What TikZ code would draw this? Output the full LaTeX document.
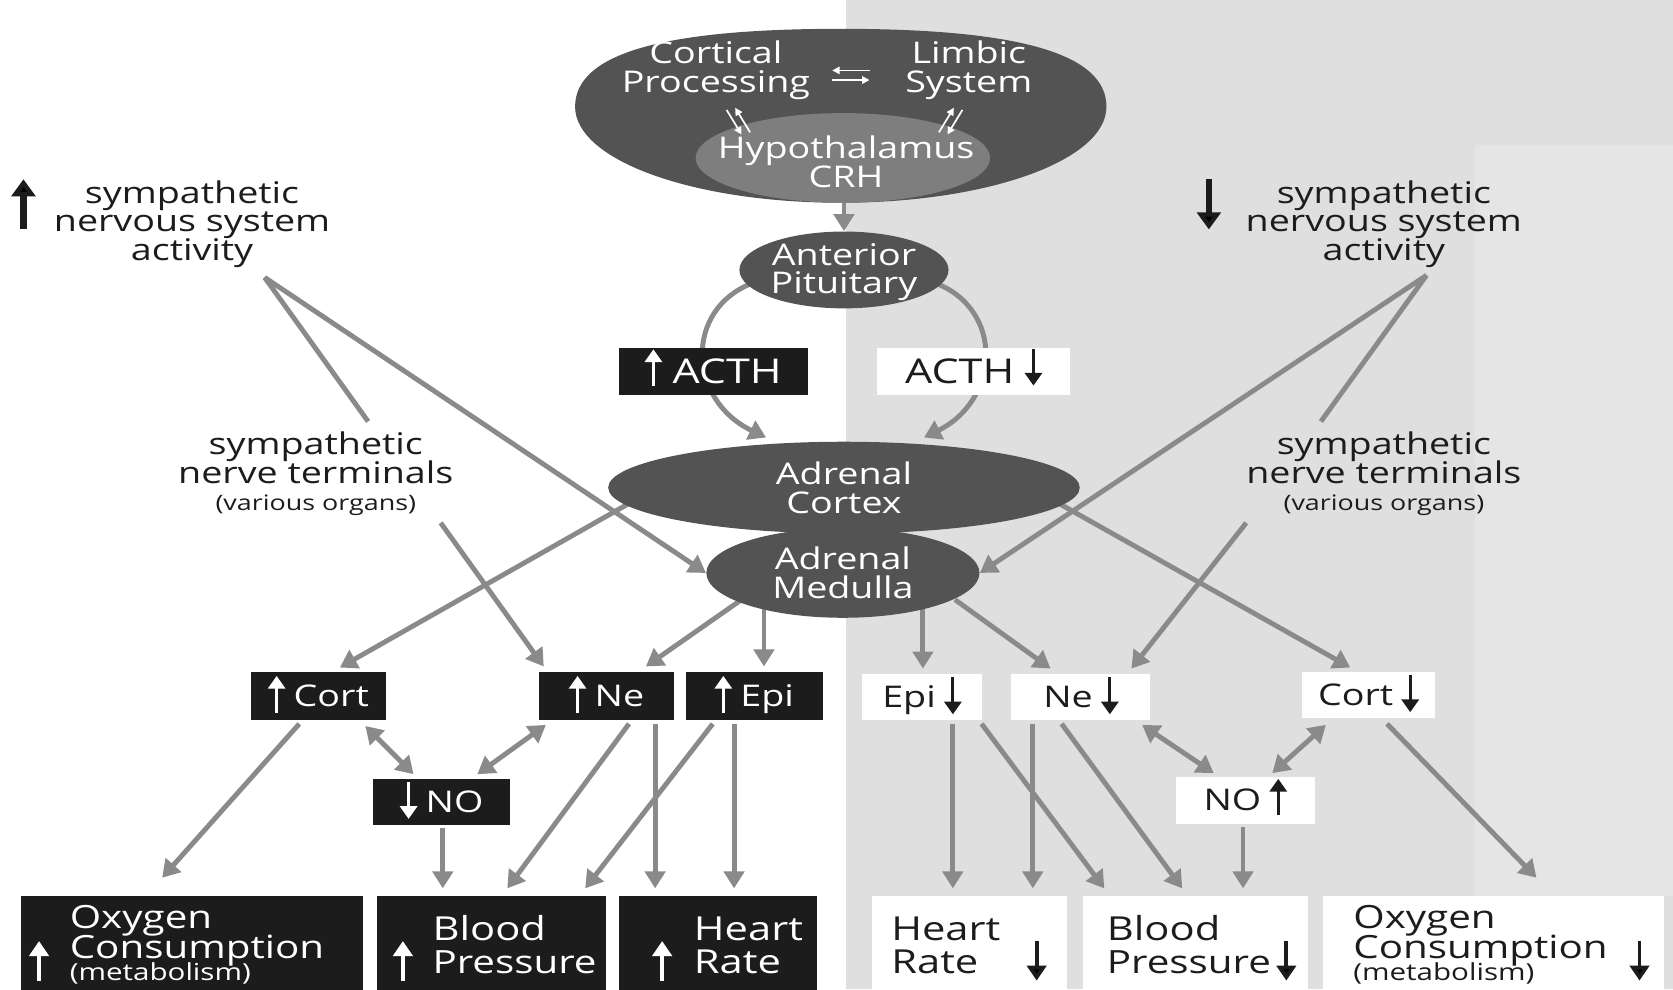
\documentclass[tikz,border=0pt]{standalone}
\usepackage{fontspec}
\setmainfont{Open Sans}[FakeStretch=1.26]
\usetikzlibrary{arrows.meta,calc,shapes.geometric}
\definecolor{dk}{HTML}{535353}
\definecolor{hy}{HTML}{7E7E7E}
\definecolor{ag}{HTML}{8A8A8A}
\definecolor{rg}{HTML}{DFDFDF}
\definecolor{rl}{HTML}{E5E5E5}
\definecolor{bx}{HTML}{1C1C1C}
\pgfdeclarelayer{back}\pgfdeclarelayer{conn}\pgfsetlayers{back,conn,main}
\newcommand\nlsk{\setlength{\lineskiplimit}{-20pt}}
\newcommand\UpA[3]{\tikz[baseline=0pt]\draw[draw=#1,line width=1.5pt,-{Triangle[length=6pt,width=8pt]}] (0pt,#2)--(0pt,#3);}
\newcommand\DnA[3]{\tikz[baseline=0pt]\draw[draw=#1,line width=1.5pt,-{Triangle[length=6pt,width=8pt]}] (0pt,#3)--(0pt,#2);}
\tikzset{
 ell/.style={ellipse, fill=dk, inner sep=0pt},
 wt/.style={text=white, align=center, inner sep=0pt, font={\fontsize{14}{13.5}\selectfont\nlsk}},
 bt/.style={text=bx, align=center, inner sep=0pt, font={\fontsize{14}{13.5}\selectfont\nlsk}},
 blk/.style={rectangle, fill=bx, text=white, inner sep=0pt, text height=10pt, text depth=0pt, font=\fontsize{14}{14}\selectfont},
 wht/.style={rectangle, fill=white, text=bx, inner sep=0pt, text height=10pt, text depth=0pt, font=\fontsize{14}{14}\selectfont},
 lt/.style={inner sep=0pt, anchor=base west, font=\fontsize{15.5}{15.5}\selectfont},
 conn/.style={draw=ag, line width=2.3pt, -{Triangle[length=8pt,width=9.5pt]}},
 dconn/.style={draw=ag, line width=2.3pt, {Triangle[length=8pt,width=9.5pt]}-{Triangle[length=8pt,width=9.5pt]}},
 plainln/.style={draw=ag, line width=2.3pt},
 sm/.style={draw=white, line width=0.8pt, -{Triangle[length=3.5pt,width=3.5pt]}},
 bigar/.style={draw=bx, line width=3pt, -{Triangle[length=8pt,width=11pt]}},
 bxar/.style={line width=1.8pt, -{Triangle[length=7pt,width=9pt]}},
}
\begin{document}
\begin{tikzpicture}[x=0.5pt,y=-0.5pt]
\useasboundingbox (0,0) rectangle (1568,927);
\clip (0,0) rectangle (1568,927);
\begin{pgfonlayer}{back}
\fill[white] (0,0) rectangle (1568,927);
\fill[rg] (793,0) rectangle (1568,927);
\fill[rl] (1382,136) rectangle (1568,840);
\end{pgfonlayer}
% top oval
\node[ellipse, inner sep=0pt, minimum width=250pt, minimum height=78pt] (top) at (788,112) {};
\fill[dk] ($(top.center)+(249,-12)$) .. controls +(0,-50) and +(166,0) .. ($(top.center)+(0,-85)$)
  .. controls +(-166,0) and +(0,-50) .. ($(top.center)+(-249,-12)$)
  .. controls +(0,50) and +(-139,0) .. ($(top.center)+(0,78)$)
  .. controls +(139,0) and +(0,50) .. ($(top.center)+(249,-12)$) -- cycle;
\node[ell, fill=hy, minimum width=138pt, minimum height=42pt] (hypo) at (790,148) {};
\node[wt] (cortp) at (671,66) {Cortical\\Processing};
\node[wt] (limb) at (908,66) {Limbic\\System};
\node[wt] (hypt) at (793,152) {Hypothalamus\\CRH};
\node[ell, minimum width=98pt, minimum height=36pt] (pit) at (791,253) {};
\node[wt] (pitt) at ($(pit.center)+(0,2)$) {Anterior\\Pituitary};
\node[ell, minimum width=221pt, minimum height=43pt] (ctx) at (791,457) {};
\node[wt] (ctxt) at (ctx.center) {Adrenal\\Cortex};
\node[ell, minimum width=128pt, minimum height=42pt] (med) at (790,537) {};
\node[wt] (medt) at (med.center) {Adrenal\\Medulla};
% small arrows in top oval
\draw[sm] ($(top.center)+(27,-46)$) -- ($(top.center)+(-8,-46)$);
\draw[sm] ($(top.center)+(-8,-37)$) -- ($(top.center)+(27,-37)$);
\draw[sm] ($(top.center)+(-107,-9)$) -- ($(top.center)+(-93,14)$);
\draw[sm] ($(top.center)+(-85,12)$) -- ($(top.center)+(-99,-11)$);
\draw[sm] ($(top.center)+(114,-9)$) -- ($(top.center)+(100,14)$);
\draw[sm] ($(top.center)+(92,12)$) -- ($(top.center)+(106,-11)$);
% ACTH
\node[blk, minimum width=88.5pt, minimum height=22pt, text height=11.4pt, font=\fontsize{16}{16}\selectfont] (acthL) at (668.5,348) {\UpA{white}{-1pt}{16pt}\hspace{5pt}ACTH};
\node[wht, minimum width=90.5pt, minimum height=22pt, text height=11.4pt, font=\fontsize{16}{16}\selectfont] (acthR) at (912.5,348) {ACTH\hspace{5pt}\DnA{bx}{-1pt}{16pt}};
% side texts
\node[bt] (actL) at (180,210) {sympathetic\\nervous system\\activity};
\node[bt] (actR) at (1297,210) {sympathetic\\nervous system\\activity};
\draw[bigar] ($(actL.center)+(-158,5)$) -- ($(actL.center)+(-158,-42)$);
\draw[bigar] ($(actR.center)+(-164,-42)$) -- ($(actR.center)+(-164,5)$);
\node[bt] (ntL) at (296,444) {sympathetic\\nerve terminals\\[-1pt]{\fontsize{10}{10}\selectfont(various organs)}};
\node[bt] (ntR) at (1297,444) {sympathetic\\nerve terminals\\[-1pt]{\fontsize{10}{10}\selectfont(various organs)}};
\coordinate (aL) at ($(actL.center)+(68,50)$);
\coordinate (aR) at ($(actR.center)+(40,48)$);
% hormone boxes
\node[blk, minimum width=63.5pt, minimum height=22.5pt] (cortL) at (298.5,652.5) {\UpA{white}{-3pt}{14.5pt}\hspace{4pt}Cort};
\node[blk, minimum width=63.5pt, minimum height=22.5pt] (neL) at (568.5,652.5) {\UpA{white}{-3pt}{14.5pt}\hspace{4pt}Ne};
\node[blk, minimum width=64pt, minimum height=22.5pt] (epiL) at (707,652.5) {\UpA{white}{-3pt}{14.5pt}\hspace{4pt}Epi};
\node[wht, minimum width=56pt, minimum height=21.5pt] (epiR) at (864,653.5) {Epi\hspace{4pt}\DnA{bx}{-3pt}{14.5pt}};
\node[wht, minimum width=65pt, minimum height=21.5pt] (neR) at (1013,653.5) {Ne\hspace{4pt}\DnA{bx}{-3pt}{14.5pt}};
\node[wht, minimum width=62.5pt, minimum height=21.5pt] (cortR) at (1282.5,651.5) {Cort\hspace{4pt}\DnA{bx}{-3pt}{14.5pt}};
\node[blk, minimum width=64pt, minimum height=21.5pt] (noL) at (414,751.5) {\DnA{white}{-3pt}{14.5pt}\hspace{4pt}NO};
\node[wht, minimum width=65pt, minimum height=22pt] (noR) at (1167,750) {NO\hspace{4pt}\UpA{bx}{-2pt}{15pt}};
% bottom boxes
\node[blk, minimum width=160pt, minimum height=50pt] (oxL) at (180,890) {};
\node[blk, minimum width=107.5pt, minimum height=50pt] (bpL) at (460.5,890) {};
\node[blk, minimum width=93pt, minimum height=50pt] (hrL) at (673,890) {};
\node[wht, minimum width=91.5pt, minimum height=50pt] (hrR) at (908.5,890) {};
\node[wht, minimum width=105.5pt, minimum height=50pt] (bpR) at (1120.5,890) {};
\node[wht, minimum width=160pt, minimum height=50pt] (oxR) at (1400,890) {};
\node[lt, text=white, font=\fontsize{15}{15}\selectfont] (oxL1) at (65,870) {Oxygen};
\node[lt, text=white, font=\fontsize{15}{15}\selectfont] (oxL2) at (65,898) {Consumption};
\node[lt, text=white, font=\fontsize{11}{11}\selectfont] (oxL3) at (65,919) {(metabolism)};
\node[lt, text=white] (bpL1) at (405,881) {Blood};
\node[lt, text=white, font=\fontsize{15}{15}\selectfont] (bpL2) at (405,912) {Pressure};
\node[lt, text=white] (hrL1) at (650,881) {Heart};
\node[lt, text=white] (hrL2) at (650,912) {Rate};
\node[lt, text=bx] (hrR1) at (835,881) {Heart};
\node[lt, text=bx] (hrR2) at (835,912) {Rate};
\node[lt, text=bx] (bpR1) at (1037,881) {Blood};
\node[lt, text=bx, font=\fontsize{15}{15}\selectfont] (bpR2) at (1037,912) {Pressure};
\node[lt, text=bx, font=\fontsize{15}{15}\selectfont] (oxR1) at (1268,870) {Oxygen};
\node[lt, text=bx, font=\fontsize{15}{15}\selectfont] (oxR2) at (1268,898) {Consumption};
\node[lt, text=bx, font=\fontsize{11}{11}\selectfont] (oxR3) at (1268,919) {(metabolism)};
\draw[bxar, draw=white] ($(oxL.west)+(17,29)$) -- ($(oxL.west)+(17,-8)$);
\draw[bxar, draw=white] ($(bpL.west)+(25,29)$) -- ($(bpL.west)+(25,-8)$);
\draw[bxar, draw=white] ($(hrL.west)+(41,29)$) -- ($(hrL.west)+(41,-8)$);
\draw[bxar, draw=bx] ($(hrR.west)+(155,-8)$) -- ($(hrR.west)+(155,29)$);
\draw[bxar, draw=bx] ($(bpR.west)+(191,-8)$) -- ($(bpR.west)+(191,29)$);
\draw[bxar, draw=bx] ($(oxR.west)+(297,-8)$) -- ($(oxR.west)+(297,29)$);
% connectors
\begin{pgfonlayer}{conn}
\draw[conn] (top.south -| pit.north) -- (pit.north);
\draw[conn] ($(pit.center)+(-85,12)$) .. controls (640,290) and (645,375) .. ($(ctx.center)+(-73,-47)$);
\draw[conn] ($(pit.center)+(85,12)$) .. controls (942,290) and (937,375) .. ($(ctx.center)+(75,-47)$);
\draw[plainln] (aL) -- ($(ntL.center)+(49,-49)$);
\draw[conn] (aL) -- (med.west);
\draw[plainln] (aR) -- ($(ntR.center)+(-59,-49)$);
\draw[conn] (aR) -- (med.east);
\draw[conn] ($(ctx.center)+(-200,14)$) -- ($(cortL.north)+(20,-4)$);
\draw[conn] ($(ctx.center)+(200,14)$) -- ($(cortR.north)+(-17,-4)$);
\draw[conn] ($(ntL.center)+(117,46)$) -- ($(neL.north west)+(5,-5)$);
\draw[conn] ($(ntR.center)+(-129,46)$) -- ($(neR.north east)+(-18,-5)$);
\draw[conn] ($(med.center)+(-95,25)$) -- ($(neL.north east)+(-27,-5)$);
\draw[conn] ($(med.center)+(-74,30)$) -- ($(epiL.north)+(9,-5)$);
\draw[conn] ($(med.center)+(75,30)$) -- ($(epiR.north)+(1,-5)$);
\draw[conn] ($(med.center)+(105,25)$) -- ($(neR.north west)+(37,-5)$);
\draw[dconn] ($(cortL.south east)+(-20,5)$) -- ($(noL.north west)+(38,-4)$);
\draw[dconn] ($(neL.south west)+(7,4)$) -- ($(noL.north east)+(-31,-4)$);
\draw[dconn] ($(neR.south east)+(-8,4)$) -- ($(noR.north west)+(36,-3)$);
\draw[dconn] ($(cortR.south west)+(23,6)$) -- ($(noR.north east)+(-40,-3)$);
\draw[conn] ($(cortL.south)+(-18,3)$) -- ($(oxL.north)+(-28,-17)$);
\draw[conn] ($(noL.south)+(1,3)$) -- ($(bpL.north)+(-45.5,-7)$);
\draw[conn] ($(neL.south)+(21,3)$) -- ($(bpL.north)+(15,-7)$);
\draw[conn] ($(neL.south)+(45.5,3)$) -- ($(hrL.north)+(-59,-7)$);
\draw[conn] ($(epiL.south)+(-39,3)$) -- ($(bpL.north)+(88,-7)$);
\draw[conn] ($(epiL.south)+(-19,3)$) -- ($(hrL.north)+(15,-7)$);
\draw[conn] ($(epiR.south)+(29,3)$) -- ($(hrR.north)+(-15.5,-7)$);
\draw[conn] ($(epiR.south)+(56,3)$) -- ($(bpR.north)+(-85.5,-7)$);
\draw[conn] ($(neR.south)+(-45,3)$) -- ($(hrR.north)+(59.5,-7)$);
\draw[conn] ($(neR.south)+(-18,3)$) -- ($(bpR.north)+(-12.5,-7)$);
\draw[conn] ($(noR.south)+(-2,3)$) -- ($(bpR.north)+(44.5,-7)$);
\draw[conn] ($(cortR.south)+(17.5,5)$) -- ($(oxR.north)+(40,-17)$);
\end{pgfonlayer}
\end{tikzpicture}
\end{document}
